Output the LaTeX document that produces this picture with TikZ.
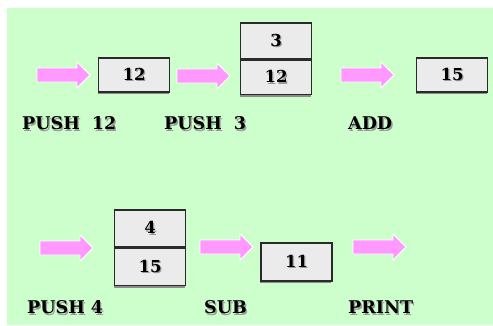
\documentclass[tikz,border=0pt]{standalone}
\usepackage{fontspec}
\setmainfont{DejaVu Serif}
\usetikzlibrary{calc}
\definecolor{bggreen}{HTML}{CCFFCC}
\definecolor{arrowpink}{HTML}{FF99FF}
\definecolor{cellfill}{HTML}{EBEBEB}
\definecolor{cellline}{HTML}{2A2A2A}
\newcommand{\shadowtxt}[1]{\makebox[0pt][l]{\hspace{1.3bp}\raisebox{-1.3bp}{\color{black!40}#1}}#1}
\tikzset{
  cell/.style={draw=cellline, line width=1.3bp, fill=cellfill, minimum width=71bp, inner sep=0pt,
    font=\fontsize{16.5bp}{16.5bp}\selectfont\bfseries,
    preaction={draw=none, fill=black!45, transform canvas={xshift=-0.8bp, yshift=-2.2bp}}},
  oplabel/.style={anchor=west, inner sep=0pt, font=\fontsize{17.5bp}{17.5bp}\selectfont\bfseries},
  pics/fatarrow/.style={code={
    \fill[arrowpink, draw=white, line width=0.8bp]
      (0,-7) -- (40,-7) -- (40,-13) -- (53,0) -- (40,13) -- (40,7) -- (0,7) -- cycle;
  }}
}
\begin{document}
\begin{tikzpicture}[x=1bp, y=-1bp]
\useasboundingbox (0,0) rectangle (493,325);
\fill[bggreen] (7,8) rectangle (493,325);

% row 1
\pic at (37,75) {fatarrow};
\node[cell, minimum height=34bp] (b12) at (134,75) {\shadowtxt{12}};
\pic at (177,76) {fatarrow};
\node[cell, minimum height=36bp] (s1top) at (276,41) {\shadowtxt{3}};
\node[cell, minimum height=34bp, anchor=north] (s1bot) at (s1top.south) {\shadowtxt{12}};
\pic at (341,75) {fatarrow};
\node[cell, minimum height=34bp] (b15) at (452,75) {\shadowtxt{15}};

\node[oplabel] (l1) at (22,124) {\shadowtxt{PUSH\ \ 12}};
\node[oplabel] (l2) at (164,124) {\shadowtxt{PUSH\ \ 3}};
\node[oplabel] (l3) at (348,124) {\shadowtxt{ADD}};

% row 2
\pic at (40,248) {fatarrow};
\node[cell, minimum height=37bp] (s2top) at (150,228.5) {\shadowtxt{4}};
\node[cell, minimum height=37bp, anchor=north] (s2bot) at (s2top.south) {\shadowtxt{15}};
\pic at (200,247) {fatarrow};
\node[cell, minimum height=38bp] (b11) at (296.5,262) {\shadowtxt{11}};
\pic at (353,247) {fatarrow};

\node[oplabel] (l4) at (27,308) {\shadowtxt{PUSH\ 4}};
\node[oplabel] (l5) at (204,308) {\shadowtxt{SUB}};
\node[oplabel] (l6) at (348,308) {\shadowtxt{PRINT}};
\end{tikzpicture}
\end{document}
